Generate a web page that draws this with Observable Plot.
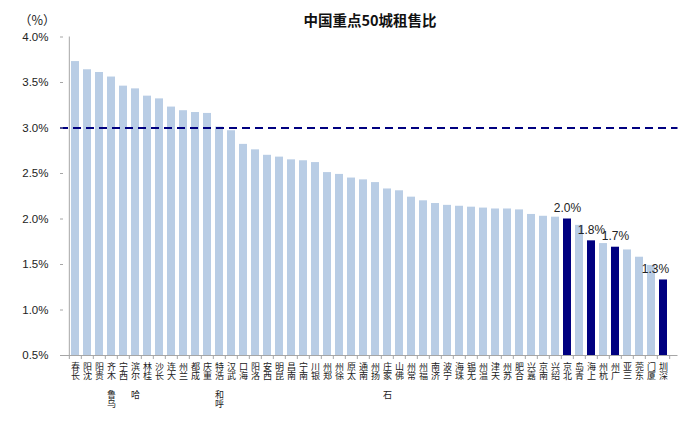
<!DOCTYPE html>
<html>
<head>
<meta charset="utf-8">
<script src="https://cdn.jsdelivr.net/npm/d3@7"></script>
<script src="https://cdn.jsdelivr.net/npm/@observablehq/plot@0.6"></script>
<style>
  html, body { margin: 0; padding: 0; background: #fff; }
  body { width: 700px; height: 422px; overflow: hidden; font-family: "Liberation Sans", "Noto Sans CJK SC", sans-serif; }
  #head { position: relative; height: 26px; width: 700px; }
  #title { position: absolute; left: 0; width: 740px; top: 11px; text-align: center; font-size: 14.5px; line-height: 17px; font-weight: bold; color: #111; font-family: "Noto Sans CJK SC", "Liberation Sans", sans-serif; }
  #unit { position: absolute; left: 19px; top: 11px; font-size: 12.5px; line-height: 17px; color: #222; font-family: "Noto Sans CJK SC", sans-serif; }
</style>
</head>
<body>
<div id="head"><div id="title">中国重点50城租售比</div><div id="unit">（%）</div></div>
<div id="chart"></div>
<script>
const cities = ["长春","沈阳","贵阳","乌鲁木齐","西宁","哈尔滨","桂林","长沙","大连","兰州","成都","重庆","呼和浩特","武汉","海口","洛阳","西安","昆明","南昌","南宁","银川","郑州","徐州","太原","南通","扬州","石家庄","佛山","常州","福州","济南","宁波","珠海","无锡","温州","天津","苏州","合肥","嘉兴","南京","绍兴","北京","青岛","上海","杭州","广州","三亚","东莞","厦门","深圳"];
const ratios = [3.73,3.64,3.61,3.56,3.46,3.43,3.35,3.32,3.23,3.19,3.17,3.16,3.01,2.97,2.82,2.76,2.70,2.68,2.65,2.64,2.62,2.51,2.49,2.45,2.43,2.40,2.33,2.31,2.24,2.20,2.17,2.15,2.14,2.13,2.12,2.11,2.11,2.10,2.05,2.03,2.02,2.00,1.93,1.76,1.73,1.69,1.66,1.58,1.49,1.33];
const highlighted = ["北京","上海","广州","深圳"];
const yTicks = [0.5,1.0,1.5,2.0,2.5,3.0,3.5,4.0];
const yDomain = [0.5, 4.0];
const threshold = 3.0;

const data = cities.map((c, i) => ({city: c, value: ratios[i], hi: highlighted.includes(c)}));
const labeled = data.filter(d => d.hi);

const W = 700, mL = 60, mR = 22.5;
const step = (W - mL - mR) / cities.length;

function stackLabel(name) {
  const rev = Array.from(name).reverse();
  const lines = rev.slice(0, 2);
  if (rev.length > 2) lines.push("\u00a0", ...rev.slice(2));
  return lines.join("\n");
}

const chart = Plot.plot({
  width: W,
  height: 396,
  marginTop: 10.5,
  marginBottom: 67,
  marginLeft: mL,
  marginRight: mR,
  style: {fontFamily: "'Liberation Sans','Noto Sans CJK SC',sans-serif", background: "#fff", color: "#222"},
  x: {type: "band", domain: cities, paddingInner: 0.35, paddingOuter: 0.175, label: null, axis: null},
  y: {domain: yDomain, label: null, axis: null},
  marks: [
    Plot.barY(data, {x: "city", y1: () => yDomain[0], y2: "value", fill: d => d.hi ? "#000080" : "#b9cde5"}),
    Plot.ruleY([threshold], {stroke: "#000080", strokeWidth: 2, strokeDasharray: "8,5"}),
    Plot.ruleY([yDomain[0]], {stroke: "#a6a6a6", strokeWidth: 1}),
    Plot.ruleX(cities.slice(0, 1), {x: c => c, y1: () => yDomain[0], y2: () => yDomain[1], dx: -step / 2, stroke: "#a6a6a6"}),
    Plot.ruleX(cities, {x: c => c, y1: () => yDomain[0], y2: () => yDomain[0], insetBottom: -4, dx: -step / 2, stroke: "#a6a6a6"}),
    Plot.ruleX(cities.slice(-1), {x: c => c, y1: () => yDomain[0], y2: () => yDomain[0], insetBottom: -4, dx: step / 2, stroke: "#a6a6a6"}),
    Plot.axisY({ticks: yTicks, tickFormat: d => d.toFixed(1) + "%", tickSize: 3, dx: 3, tickPadding: 12, fontSize: 11.5, stroke: "#a6a6a6", color: "#222"}),
    Plot.text(cities, {x: c => c, y: () => yDomain[0], text: stackLabel, lineAnchor: "top", dy: 8, fontSize: 9, lineHeight: 1.03, fill: "#222", fontFamily: "'Noto Sans CJK SC',sans-serif"}),
    Plot.text(labeled.slice(0, -1), {x: "city", y: "value", text: d => d.value.toFixed(1) + "%", dy: -11, fontSize: 12, fill: "#222"}),
    Plot.text(labeled.slice(-1), {x: "city", y: "value", text: d => d.value.toFixed(1) + "%", dy: -11, dx: -8, fontSize: 12, fill: "#222"})
  ]
});
document.getElementById("chart").appendChild(chart);
</script>
</body>
</html>
